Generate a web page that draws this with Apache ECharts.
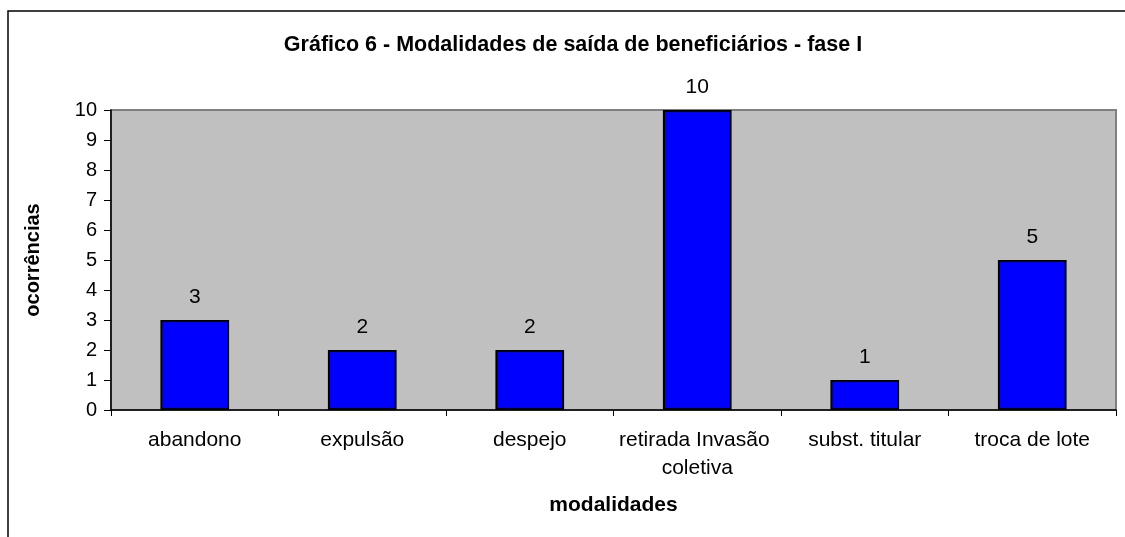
<!DOCTYPE html>
<html>
<head>
<meta charset="utf-8">
<script src="https://cdn.jsdelivr.net/npm/echarts@6/dist/echarts.min.js"></script>
<style>
  html, body { margin: 0; padding: 0; background: #fff; }
  #main { width: 1125px; height: 537px; }
</style>
</head>
<body>
<div id="main"></div>
<script>
// categorias e valores
var categorias = ['abandono', 'expulsão', 'despejo', 'retirada Invasão coletiva', 'subst. titular', 'troca de lote'];
var ocorrencias = [3, 2, 2, 10, 1, 5];
var yTicks = [0, 1, 2, 3, 4, 5, 6, 7, 8, 9, 10];

var fonte = '"Liberation Sans", Arial, sans-serif';

var myChart = echarts.init(document.getElementById('main'), null, { renderer: 'canvas' });

var option = {
    backgroundColor: '#ffffff',
    animation: false,
    title: {
        text: 'Gráfico 6 - Modalidades de saída de beneficiários - fase I',
        left: 568,
        top: 29,
        textAlign: 'center',
        textStyle: { fontFamily: fonte, fontSize: 21.5, fontWeight: 'bold', color: '#000' }
    },
    // moldura externa (só topo e esquerda aparecem)
    graphic: [{
        type: 'rect',
        shape: { x: 8, y: 11, width: 1200, height: 600 },
        style: { fill: 'none', stroke: '#000', lineWidth: 1.5 },
        silent: true
    }],
    grid: {
        left: 111,
        top: 110,
        right: 9,
        bottom: 127,
        show: true,
        backgroundColor: '#c0c0c0',
        borderColor: '#808080',
        borderWidth: 2
    },
    xAxis: {
        type: 'category',
        data: categorias,
        name: 'modalidades',
        nameLocation: 'middle',
        nameGap: 85,
        nameTextStyle: { fontFamily: fonte, fontSize: 21, fontWeight: 'bold', color: '#000' },
        axisLine: { lineStyle: { color: '#000', width: 1.5 } },
        axisTick: { show: true, length: 6, lineStyle: { color: '#000' } },
        axisLabel: {
            fontFamily: fonte, fontSize: 21, color: '#000',
            margin: 16, lineHeight: 28, width: 170, overflow: 'break', interval: 0
        },
        splitLine: { show: false }
    },
    yAxis: {
        type: 'value',
        min: yTicks[0],
        max: yTicks[yTicks.length - 1],
        interval: 1,
        name: 'ocorrências',
        nameLocation: 'middle',
        nameGap: 68,
        nameRotate: 90,
        nameTextStyle: { fontFamily: fonte, fontSize: 20, fontWeight: 'bold', color: '#000' },
        axisLine: { show: true, lineStyle: { color: '#000', width: 1.5 } },
        axisTick: { show: true, length: 7, lineStyle: { color: '#000' } },
        axisLabel: { fontFamily: fonte, fontSize: 20, color: '#000', margin: 14 },
        splitLine: { show: false }
    },
    series: [{
        type: 'bar',
        data: ocorrencias,
        barWidth: '41%',
        itemStyle: { color: '#0000ff', borderColor: '#000', borderWidth: 2 },
        label: {
            show: true,
            position: 'top',
            distance: 12,
            fontFamily: fonte,
            fontSize: 21,
            color: '#000'
        }
    }]
};
myChart.setOption(option);
</script>
</body>
</html>
